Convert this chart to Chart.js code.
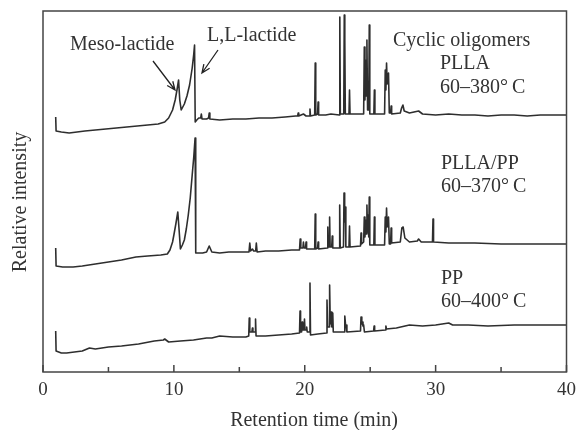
<!DOCTYPE html>
<html>
<head>
<meta charset="utf-8">
<script src="https://cdn.jsdelivr.net/npm/chart.js@4"></script>
<style>
  html, body { margin: 0; padding: 0; background: #fff; }
  #wrap { width: 583px; height: 430px; }
</style>
</head>
<body>
<div id="wrap"><canvas id="gcChart" width="583" height="430"></canvas></div>
<script>
// retention time (min), relative intensity (a.u.)
const pllaTrace = [
  [0.97,255],[1.0,241],[1.4,240],[2.0,239],[2.6,240],[3.2,241],[4.0,242],[4.8,243],[5.6,244],[6.4,245],
  [7.2,246],[8.0,247],[8.8,248],[9.3,250],[9.6,254],[9.9,262],[10.1,272],[10.25,283],[10.36,292],[10.45,272],
  [10.56,262],[10.8,268],[11.0,276],[11.2,287],[11.4,304],[11.52,318],[11.58,327],[11.63,250],[11.75,252],[11.9,254],
  [12.05,254],[12.1,258],[12.15,253],[12.5,253],[12.65,254],[12.7,259],[12.75,253],[13.5,252],[14.5,253],[15.5,253],
  [16.5,254],[17.5,254],[18.5,255],[19.3,256],[19.46,256],[19.5,259],[19.54,256],[19.9,258],[20.1,256],[20.36,256],
  [20.4,263],[20.44,256],[20.76,257],[20.8,309],[20.84,257],[20.98,258],[21.02,270],[21.06,257],[21.6,257],[22.0,258],
  [22.64,257],[22.68,355],[22.72,258],[22.98,258],[23.02,357],[23.06,332],[23.1,258],[23.38,258],[23.42,282],[23.46,258],
  [24.5,258],[24.55,325],[24.6,272],[24.65,312],[24.7,276],[24.75,332],[24.8,262],[24.89,262],[24.93,347],[24.97,258],
  [25.28,258],[25.32,282],[25.36,258],[26.1,258],[26.15,302],[26.2,282],[26.25,309],[26.3,288],[26.4,299],[26.46,259],
  [26.56,259],[26.6,266],[26.64,258],[27.3,259],[27.4,264],[27.5,267],[27.6,261],[28.0,259],[28.7,261],[29.0,258],
  [30,257],[31,258],[32,257],[33,257],[34,256],[35,257],[36,257],[37,256],[38,257],[39,257],[40,257]
];
const pllaPpTrace = [
  [0.97,124],[1.0,106],[1.5,105],[2.3,105],[3.0,106],[4.0,108],[5.0,110],[6.0,112],[7.1,115],[8.0,116],
  [9.0,117],[9.5,118],[9.7,122],[9.9,130],[10.0,137],[10.15,148],[10.3,160],[10.4,142],[10.5,123],[10.65,127],
  [10.8,132],[10.95,143],[11.1,157],[11.25,174],[11.4,197],[11.52,215],[11.62,234],[11.67,119],[11.9,119],[12.2,119],
  [12.5,120],[12.7,126],[12.9,120],[13.5,119],[14.2,120],[15.0,120],[15.74,120],[15.8,129],[15.86,121],[16.0,123],
  [16.1,121],[16.25,121],[16.3,129],[16.36,120],[17.0,121],[18.0,121],[19.0,122],[19.6,122],[19.65,133],[19.7,124],
  [19.86,124],[19.9,130],[19.95,124],[20.06,124],[20.1,130],[20.14,123],[20.76,123],[20.8,158],[20.84,123],[20.98,124],
  [21.02,130],[21.06,123],[21.72,124],[21.76,145],[21.8,125],[21.86,125],[21.9,155],[21.94,125],[22.06,125],[22.1,136],
  [22.14,124],[22.63,124],[22.67,167],[22.71,124],[22.96,125],[23.0,179],[23.05,150],[23.1,165],[23.14,125],[23.38,125],
  [23.42,146],[23.46,125],[24.26,126],[24.3,139],[24.34,128],[24.5,130],[24.55,155],[24.6,135],[24.65,152],[24.7,138],
  [24.75,167],[24.8,140],[24.85,157],[24.89,135],[24.93,175],[24.97,127],[25.28,127],[25.32,155],[25.36,127],[26.1,127],
  [26.15,155],[26.2,140],[26.25,164],[26.3,145],[26.4,155],[26.46,128],[26.56,128],[26.6,144],[26.64,129],[27.3,130],
  [27.42,144],[27.52,145],[27.65,134],[28.0,130],[28.6,131],[28.7,133],[28.9,130],[29.76,130],[29.8,153],[29.84,130],
  [31,129],[33,129],[35,128],[37,128],[40,128]
];
const ppTrace = [
  [0.97,41],[1.0,21],[1.4,19],[1.8,19],[2.4,20],[3.0,21],[3.55,24],[4.0,23],[5.0,25],[6.0,26],
  [7.3,28],[8.5,31],[9.2,32],[9.3,33],[9.6,30],[10.5,31],[11.5,32],[12.5,34],[12.9,34],[13.5,36],
  [14.5,35],[15.5,35],[15.72,36],[15.76,54],[15.8,40],[15.96,40],[16.0,44],[16.04,40],[16.2,40],[16.24,53],
  [16.28,36],[17.0,36],[18.0,37],[19.0,38],[19.6,39],[19.64,61],[19.68,40],[19.76,40],[19.8,50],[19.84,42],
  [19.94,42],[19.98,53],[20.02,42],[20.11,42],[20.15,45],[20.19,40],[20.36,40],[20.4,89],[20.44,37],[21.0,38],
  [21.66,39],[21.7,72],[21.75,45],[21.86,45],[21.9,87],[21.95,48],[22.02,60],[22.07,45],[22.1,45],[22.14,59],
  [22.18,40],[23.0,40],[23.06,56],[23.12,47],[23.16,47],[23.22,40],[24.26,41],[24.3,55],[24.36,48],[24.4,50],
  [24.45,46],[24.5,47],[24.56,40],[25.26,41],[25.3,46],[25.34,41],[26.16,42],[26.2,46],[26.24,43],[27.0,44],
  [28.0,47],[29.0,46],[30.0,47],[31.0,49],[31.3,47],[32.5,47],[34.0,46],[36.0,47],[38.0,47],[40.0,47]
];
const xTicks = [0, 10, 20, 30, 40];
const minorTicks = [5, 15, 25, 35];

const serif = "'Liberation Serif', 'Times New Roman', serif";
const ink = '#333';

const toPoints = arr => arr.map(p => ({ x: p[0], y: p[1] }));
const traceStyle = {
  borderColor: '#2e2e2e', borderWidth: 1.6, borderJoinStyle: 'round',
  pointRadius: 0, tension: 0, fill: false
};

// texts and arrows drawn on top of the plot (pixel positions)
const notes = [
  { text: 'Meso-lactide', x: 70, y: 50 },
  { text: 'L,L-lactide', x: 207, y: 41 },
  { text: 'Cyclic oligomers', x: 393, y: 46 },
  { text: 'PLLA', x: 440, y: 69 },
  { text: '60–380°\u2009C', x: 440, y: 93 },
  { text: 'PLLA/PP', x: 441, y: 169 },
  { text: '60–370°\u2009C', x: 441, y: 192 },
  { text: 'PP', x: 441, y: 284 },
  { text: '60–400°\u2009C', x: 441, y: 307 }
];
const arrows = [
  { from: [153, 61], to: [175, 90] },
  { from: [218, 50], to: [202, 73] }
];

const decorations = {
  id: 'decorations',
  afterDraw(chart) {
    const { ctx, chartArea: a, scales: { x } } = chart;
    ctx.save();
    // frame
    ctx.strokeStyle = '#444';
    ctx.lineWidth = 1.5;
    ctx.strokeRect(a.left, a.top, a.right - a.left, a.bottom - a.top);
    // inward ticks
    ctx.beginPath();
    xTicks.forEach(v => { const p = x.getPixelForValue(v); ctx.moveTo(p, a.bottom); ctx.lineTo(p, a.bottom - 7); });
    minorTicks.forEach(v => { const p = x.getPixelForValue(v); ctx.moveTo(p, a.bottom); ctx.lineTo(p, a.bottom - 5); });
    ctx.stroke();

    ctx.fillStyle = ink;
    ctx.font = '20px ' + serif;
    ctx.textAlign = 'left';
    ctx.textBaseline = 'alphabetic';
    notes.forEach(n => ctx.fillText(n.text, n.x, n.y));

    // arrows
    ctx.strokeStyle = '#222';
    ctx.lineWidth = 1.3;
    arrows.forEach(ar => {
      const [x1, y1] = ar.from, [x2, y2] = ar.to;
      const ang = Math.atan2(y2 - y1, x2 - x1);
      ctx.beginPath();
      ctx.moveTo(x1, y1); ctx.lineTo(x2, y2);
      ctx.moveTo(x2 - 9 * Math.cos(ang - 0.4), y2 - 9 * Math.sin(ang - 0.4));
      ctx.lineTo(x2, y2);
      ctx.lineTo(x2 - 9 * Math.cos(ang + 0.4), y2 - 9 * Math.sin(ang + 0.4));
      ctx.stroke();
    });

    // axis titles
    ctx.textAlign = 'center';
    ctx.fillText('Retention time (min)', 314, 426);
    ctx.translate(21, 202);
    ctx.rotate(-Math.PI / 2);
    ctx.textBaseline = 'middle';
    ctx.fillText('Relative intensity', 0, 0);
    ctx.restore();
  }
};

new Chart(document.getElementById('gcChart'), {
  type: 'line',
  data: {
    datasets: [
      { label: 'PLLA', data: toPoints(pllaTrace), ...traceStyle },
      { label: 'PLLA/PP', data: toPoints(pllaPpTrace), ...traceStyle },
      { label: 'PP', data: toPoints(ppTrace), ...traceStyle }
    ]
  },
  options: {
    responsive: false,
    animation: false,
    devicePixelRatio: 1,
    layout: { padding: { top: 11, right: 11, left: 0, bottom: 0 } },
    plugins: { legend: { display: false }, tooltip: { enabled: false } },
    scales: {
      x: {
        type: 'linear',
        min: 0,
        max: 40,
        afterBuildTicks: scale => { scale.ticks = xTicks.map(v => ({ value: v })); },
        afterFit: scale => { scale.height = 58; },
        grid: { display: false, drawTicks: false },
        border: { display: false },
        ticks: { color: ink, padding: 7, font: { family: serif, size: 19 } }
      },
      y: {
        min: 0,
        max: 361,
        afterFit: scale => { scale.width = 43; },
        grid: { display: false, drawTicks: false },
        border: { display: false },
        ticks: { display: false }
      }
    }
  },
  plugins: [decorations]
});
</script>
</body>
</html>
